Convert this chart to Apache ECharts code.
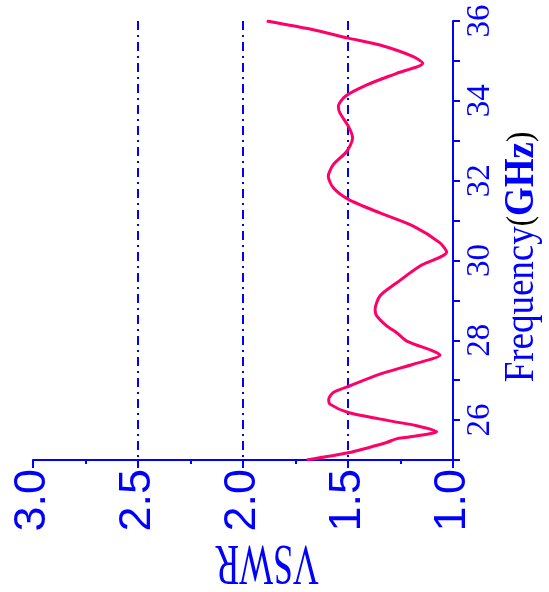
<!DOCTYPE html>
<html>
<head>
<meta charset="utf-8">
<script src="https://cdn.jsdelivr.net/npm/echarts@6/dist/echarts.min.js"></script>
<style>
    html, body { margin: 0; padding: 0; background: #fff; }
    #chart { width: 549px; height: 592px; }
</style>
</head>
<body>
<div id="chart"></div>
<script>
// 频率 (GHz) 与 VSWR 数据
var freq = [25.00, 25.18, 25.44, 25.53, 25.57, 25.71, 25.86, 25.98, 26.19, 26.40, 26.52, 26.69, 26.86,
    27.15, 27.40, 27.63, 27.73, 27.98, 28.19, 28.36, 28.61, 28.77, 29.11, 29.44, 29.86, 30.21,
    30.44, 30.86, 31.19, 31.53, 31.82, 32.11, 32.40, 32.73, 33.07, 33.36, 33.69, 33.86, 34.11,
    34.40, 34.69, 34.94, 35.11, 35.40, 35.57, 35.78, 36.00];
var vswr = [1.697, 1.500, 1.316, 1.270, 1.220, 1.078, 1.173, 1.300, 1.499, 1.586, 1.592, 1.570, 1.490,
    1.348, 1.189, 1.062, 1.094, 1.220, 1.268, 1.316, 1.363, 1.371, 1.348, 1.268, 1.157, 1.030,
    1.062, 1.189, 1.348, 1.498, 1.570, 1.594, 1.570, 1.506, 1.478, 1.498, 1.538, 1.546, 1.514,
    1.410, 1.268, 1.144, 1.189, 1.348, 1.498, 1.665, 1.887];
var vswrTicks = [1.0, 1.5, 2.0, 2.5, 3.0];
var freqTicks = [26, 28, 30, 32, 34, 36];

var blue = '#0000ff';
var points = [];
for (var i = 0; i < freq.length; i++) {
    points.push([vswr[i], freq[i]]);
}

var myChart = echarts.init(document.getElementById('chart'));
var option = {
    animation: false,
    grid: { left: 33, right: 96, top: 21, bottom: 132 },
    xAxis: {
        type: 'value',
        min: 1, max: 3, interval: 0.5,
        inverse: true,
        axisLine: { lineStyle: { color: blue, width: 2 } },
        axisTick: { length: 8, lineStyle: { color: blue, width: 2 } },
        minorTick: { show: true, splitNumber: 2, length: 4, lineStyle: { color: blue, width: 2 } },
        axisLabel: {
            rotate: 90, margin: 9, color: blue,
            fontFamily: '"Liberation Sans Narrow", "Liberation Sans", sans-serif',
            fontSize: 45,
            formatter: function (v) {
                return vswrTicks.indexOf(v) >= 0 ? v.toFixed(1) : '';
            }
        },
        splitLine: {
            show: true, showMinLine: false, showMaxLine: false,
            lineStyle: { color: blue, width: 2, type: [9, 5, 2, 5] }
        }
    },
    yAxis: {
        type: 'value',
        position: 'right',
        min: 25, max: 36, interval: 1,
        axisLine: { lineStyle: { color: blue, width: 2 } },
        axisTick: { show: true, length: 7, lineStyle: { color: blue, width: 2 } },
        axisLabel: {
            rotate: 90, margin: 11, color: blue,
            fontFamily: '"Liberation Serif", serif', fontSize: 33,
            formatter: function (v) {
                return freqTicks.indexOf(v) >= 0 ? String(v) : '';
            }
        },
        splitLine: { show: false }
    },
    series: [
        {
            type: 'line',
            data: points,
            showSymbol: false,
            smooth: 0.25,
            lineStyle: { color: '#ff0066', width: 3 }
        }
    ],
    graphic: [
        {
            type: 'text',
            x: 267, y: 561,
            rotation: Math.PI,
            scaleX: 0.64,
            style: {
                text: 'VSWR',
                fill: blue,
                font: '56px "Liberation Serif", serif',
                align: 'center',
                verticalAlign: 'middle'
            }
        },
        {
            type: 'text',
            x: 522, y: 257,
            rotation: Math.PI / 2,
            scaleX: 0.86,
            style: {
                text: '{a|Frequency}{b|(}{c|GHz}{b|)}',
                align: 'center',
                verticalAlign: 'middle',
                rich: {
                    a: { fill: blue, fontFamily: '"Liberation Serif", serif', fontSize: 43 },
                    b: { fill: '#000', fontFamily: '"Liberation Serif", serif', fontSize: 36 },
                    c: { fill: blue, fontFamily: '"Liberation Serif", serif', fontSize: 43, fontWeight: 'bold' }
                }
            }
        }
    ]
};
myChart.setOption(option);
</script>
</body>
</html>
